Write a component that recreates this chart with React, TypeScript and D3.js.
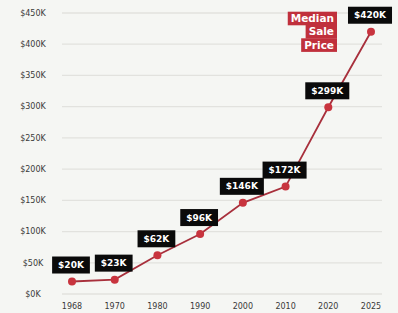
import { useEffect, useRef } from 'react';
import * as d3 from 'd3';

const years = ['1968', '1970', '1980', '1990', '2000', '2010', '2020', '2025'];
const prices = [20, 23, 62, 96, 146, 172, 299, 420];
const yTicks = [0, 50, 100, 150, 200, 250, 300, 350, 400, 450];
const legendLines = ['Median', 'Sale', 'Price'];

const W = 398;
const H = 313;
const FONT = '"DejaVu Sans", sans-serif';

const App = () => {
  const ref = useRef<SVGSVGElement>(null);

  useEffect(() => {
    const svg = d3.select(ref.current);
    svg.selectAll('*').remove();

    svg.append('rect').attr('width', W).attr('height', H).attr('fill', '#f5f6f3');

    const x = d3.scalePoint<string>().domain(years).range([72, 371]);
    const y = d3.scaleLinear().domain([0, 450]).range([294, 13]);

    // grid + y labels
    const grid = svg.append('g');
    yTicks.forEach(t => {
      grid.append('line')
        .attr('x1', 62).attr('x2', 382)
        .attr('y1', y(t)).attr('y2', y(t))
        .attr('stroke', '#e2e2de').attr('stroke-width', 1.3);
      grid.append('text')
        .attr('x', 33).attr('y', y(t)).attr('dy', '0.35em')
        .attr('text-anchor', 'middle')
        .attr('font-family', FONT).attr('font-size', 8)
        .attr('fill', '#3a3a3a')
        .text(`$${t}K`);
    });

    // x labels
    years.forEach(yr => {
      svg.append('text')
        .attr('x', x(yr)!).attr('y', 306).attr('dy', '0.35em')
        .attr('text-anchor', 'middle')
        .attr('font-family', FONT).attr('font-size', 8)
        .attr('fill', '#3a3a3a')
        .text(yr);
    });

    const line = d3.line<number>()
      .x((_, i) => x(years[i])!)
      .y(d => y(d));

    svg.append('path')
      .datum(prices)
      .attr('fill', 'none')
      .attr('stroke', '#a8303c')
      .attr('stroke-width', 1.8)
      .attr('d', line);

    svg.selectAll('circle.pt')
      .data(prices)
      .join('circle')
      .attr('class', 'pt')
      .attr('cx', (_, i) => x(years[i])!)
      .attr('cy', d => y(d))
      .attr('r', 4)
      .attr('fill', '#c8343e');

    // value labels
    prices.forEach((p, i) => {
      const cx = x(years[i])! - 1;
      const by = y(p) - 8;
      const g = svg.append('g');
      const txt = g.append('text')
        .attr('x', cx).attr('y', by - 8.5).attr('dy', '0.35em')
        .attr('text-anchor', 'middle')
        .attr('font-family', FONT).attr('font-size', 9).attr('font-weight', 'bold')
        .attr('fill', '#fff')
        .text(`$${p}K`);
      const w = (txt.node() as SVGTextElement).getComputedTextLength() + 12;
      g.insert('rect', 'text')
        .attr('x', cx - w / 2).attr('y', by - 17)
        .attr('width', w).attr('height', 17)
        .attr('fill', '#0a0a0a');
    });

    // legend label
    const right = 337;
    legendLines.forEach((s, i) => {
      const g = svg.append('g');
      const ty = 18.5 + i * 13.3;
      const txt = g.append('text')
        .attr('x', right - 3).attr('y', ty).attr('dy', '0.35em')
        .attr('text-anchor', 'end')
        .attr('font-family', FONT).attr('font-size', 10.5).attr('font-weight', 'bold')
        .attr('fill', '#fff')
        .text(s);
      const w = (txt.node() as SVGTextElement).getComputedTextLength() + 6;
      g.insert('rect', 'text')
        .attr('x', right - w).attr('y', ty - 6.8)
        .attr('width', w).attr('height', 13.6)
        .attr('fill', '#c0303c');
    });
  }, []);

  return (
    <div style={{ position: 'absolute', left: 0, top: 0 }}>
      <svg ref={ref} width={W} height={H} style={{ display: 'block' }} />
    </div>
  );
};

export default App;
